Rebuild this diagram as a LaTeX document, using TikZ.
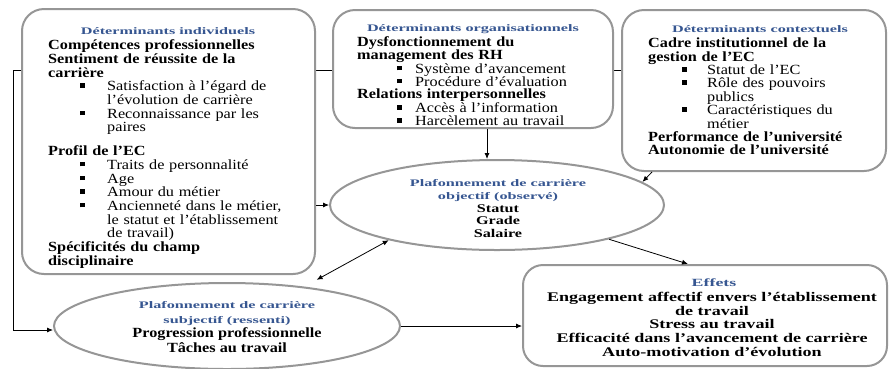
\documentclass[tikz,border=0pt]{standalone}
\usepackage{fontspec}
\setmainfont[FakeStretch=1.16]{Liberation Serif}
\newfontfamily\ttlfont[FakeStretch=1.62]{Liberation Serif}
\newfontfamily\widefont[FakeStretch=1.37]{Liberation Serif}
\usetikzlibrary{shapes.geometric,arrows.meta,backgrounds}
\definecolor{ttlblue}{RGB}{54,86,145}
\definecolor{edgegray}{RGB}{150,150,150}
\newcommand\mkhd[1]{\textbf{#1}\par}
\newcommand\mkbul[3]{{\leftskip=#1\noindent\llap{\raisebox{3pt}{\rule{4.5pt}{4.5pt}}\hspace{#2}}#3\par}}
\newcommand\fstrut{\rule{0pt}{10pt}}
\newcommand\tstrut{\rule{0pt}{8pt}}
\begin{document}
\begin{tikzpicture}[x=1pt,y=-1pt,
  box/.style={draw=edgegray, line width=2pt, fill=white, rounded corners=22pt, inner sep=0pt},
  oval/.style={ellipse, draw=edgegray, line width=2pt, fill=white, inner sep=0pt},
  ttl/.style={font=\ttlfont\bfseries\fontsize{10}{13}\selectfont, text=ttlblue, align=center, inner sep=0pt, anchor=north},
  bodyl/.style={inner sep=0pt, align=left, anchor=north west},
  bodyc/.style={inner sep=0pt, align=center, anchor=north, font=\widefont\bfseries\fontsize{11.8}{12.2}\selectfont},
  arr/.style={draw=black, line width=0.8pt, -{Latex[length=6pt,width=5pt]}},
  darr/.style={draw=black, line width=0.8pt, {Latex[length=6pt,width=5pt]}-{Latex[length=6pt,width=5pt]}}
]
\useasboundingbox (0,0) rectangle (890,368);

% boxes
\node[box, minimum width=293pt, minimum height=265pt] (ind) at (168.5,141.5) {};
\node[box, minimum width=280pt, minimum height=118pt] (org) at (473,69) {};
\node[box, minimum width=264pt, minimum height=161pt] (ctx) at (754,90.5) {};
\node[box, rounded corners=20pt, minimum width=364pt, minimum height=101pt] (eff) at (705,315.5) {};
\node[oval, minimum width=334pt, minimum height=90pt] (obj) at (497,205) {};
\node[oval, minimum width=346pt, minimum height=86pt] (subj) at (227,326) {};

% texts of the individual box
\node[ttl] (indT) at (168,26.3) {\tstrut Déterminants individuels};
\node[bodyl, text width=262pt, font=\fontsize{14}{13.7}\selectfont] (indB) at (48,39.5) {%
\fstrut\textbf{Compétences professionnelles}\par
\mkhd{Sentiment de réussite de la}
\mkhd{carrière}
\mkbul{59pt}{22.5pt}{Satisfaction à l’égard de\\l’évolution de carrière}
\mkbul{59pt}{22.5pt}{Reconnaissance par les\\paires}
\vspace{10pt}
\mkhd{Profil de l’EC}
\mkbul{59pt}{22.5pt}{Traits de personnalité}
\mkbul{59pt}{22.5pt}{Age}
\mkbul{59pt}{22.5pt}{Amour du métier}
\mkbul{59pt}{22.5pt}{Ancienneté dans le métier,\\le statut et l’établissement\\de travail)}
\mkhd{Spécificités du champ}
\mkhd{disciplinaire}};

% texts of the organisational box
\node[ttl] (orgT) at (473,23.3) {\tstrut Déterminants organisationnels};
\node[bodyl, text width=250pt, font=\fontsize{14}{12.8}\selectfont] (orgB) at (357,36.5) {%
\fstrut\textbf{Dysfonctionnement du}\par
\mkhd{management des RH}
\mkbul{58pt}{13.5pt}{Système d’avancement}
\mkbul{58pt}{13.5pt}{Procédure d’évaluation}
\mkhd{Relations interpersonnelles}
\mkbul{58pt}{13.5pt}{Accès à l’information}
\mkbul{58pt}{13.5pt}{Harcèlement au travail}};

% texts of the contextual box
\node[ttl] (ctxT) at (760,24.3) {\tstrut Déterminants contextuels};
\node[bodyl, text width=233pt, font=\fontsize{14}{13.4}\selectfont] (ctxB) at (648,37.5) {%
\fstrut\textbf{Cadre institutionnel de la}\par
\mkhd{gestion de l’EC}
\mkbul{59pt}{20.5pt}{Statut de l’EC}
\mkbul{59pt}{20.5pt}{Rôle des pouvoirs\\publics}
\mkbul{59pt}{20.5pt}{Caractéristiques du\\métier}
\mkhd{Performance de l’université}
\mkhd{Autonomie de l’université}};

% objective ceiling
\node[ttl] (objT) at (498,178.3) {\tstrut Plafonnement de carrière\\objectif (observé)};
\node[bodyc] (objB) at (498,202.5) {\fstrut Statut\\Grade\\Salaire};

% subjective ceiling
\node[ttl, font=\ttlfont\bfseries\fontsize{10}{15}\selectfont] (subjT) at (227,300.3) {\tstrut Plafonnement de carrière\\subjectif (ressenti)};
\node[bodyc, font=\bfseries\fontsize{14}{14.5}\selectfont] (subjB) at (227,327.5) {\fstrut Progression professionnelle\\Tâches au travail};

% effects
\node[ttl, font=\ttlfont\bfseries\fontsize{11}{13}\selectfont] (effT) at (714,278.3) {\tstrut Effets};
\node[bodyc, font=\widefont\bfseries\fontsize{13.2}{13.6}\selectfont] (effB) at (712,291.5) {\fstrut Engagement affectif envers l’établissement\\de travail\\Stress au travail\\Efficacité dans l’avancement de carrière\\Auto-motivation d’évolution};

% connectors
\coordinate (lt) at (13,70);
\coordinate (lb) at (13,330);
\begin{pgfonlayer}{background}
\draw[arr] (ctx.west |- lt) -- (lt) -- (lb) -- (subj.west |- lb);
\end{pgfonlayer}
\draw[arr] (ind.east |- obj.west) -- (obj.west);
\draw[arr] ([xshift=14pt]org.south) -- ([xshift=14pt]org.south |- obj.north);
\draw[arr] ([xshift=31pt]ctx.south west) -- (obj.9);
\draw[darr, shorten >=14pt] (obj.198) -- (subj.27);
\draw[arr] (obj.343) -- ([xshift=-17pt]eff.north);
\draw[arr] (subj.east) -- (subj.east -| eff.west);
\end{tikzpicture}
\end{document}
